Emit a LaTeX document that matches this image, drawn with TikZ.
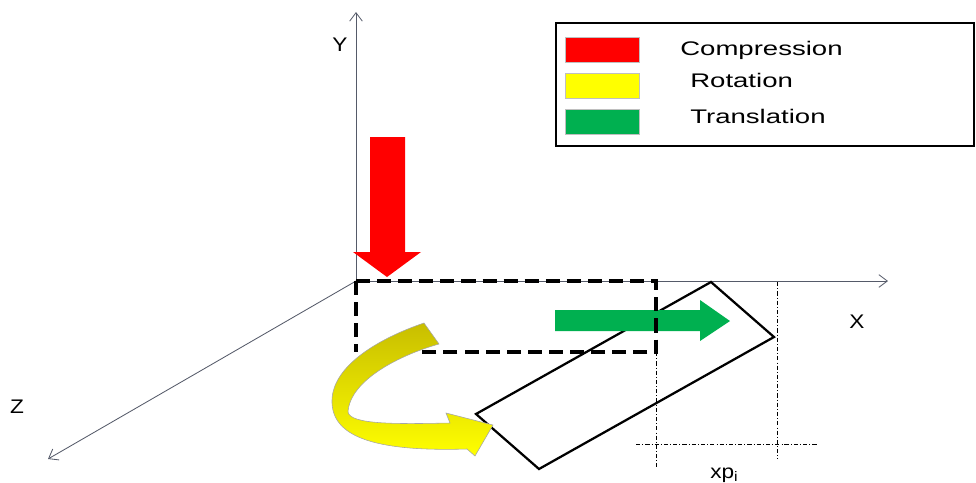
\documentclass[tikz,border=0pt]{standalone}
\usepackage{fontspec}
\setmainfont{Liberation Sans}
\newfontfamily\legendfont[FakeStretch=1.4]{Liberation Sans}
\newfontfamily\axisfont[FakeStretch=1.15]{Liberation Sans}
\usetikzlibrary{arrows.meta}
\usetikzlibrary{calc,positioning}

\definecolor{axisgray}{RGB}{85,90,105}
\definecolor{compred}{RGB}{255,0,0}
\definecolor{rotyellow}{RGB}{255,255,0}
\definecolor{rotolive}{RGB}{200,190,0}
\definecolor{transgreen}{RGB}{0,176,80}

\begin{document}
\begin{tikzpicture}[x=0.025cm,y=-0.025cm]
    \def\axisWidth{0.6pt}
    \def\boxWidth{1.6pt}

    \tikzstyle{axis}=[line width=\axisWidth,draw=axisgray,-{Straight Barb[length=6pt,width=9pt]}]
    \tikzstyle{hidden}=[line width=2.2pt,dash pattern=on 10pt off 5pt]
    \tikzstyle{guide}=[line width=0.5pt,dash pattern=on 3pt off 1.5pt on 0.6pt off 1.5pt]
    \tikzstyle{axislabel}=[font=\axisfont\fontsize{14}{16}\selectfont,inner sep=0pt]
    \tikzstyle{swatch}=[draw=black!25,line width=0.3pt,minimum width=1.85cm,minimum height=0.62cm,inner sep=0pt]
    \tikzstyle{legtext}=[font=\legendfont\fontsize{14}{16}\selectfont,anchor=west,inner sep=0pt]

    \useasboundingbox (0,0) rectangle (976,482);

    % Axes
    \coordinate (O) at (356,281);
    \coordinate (Ytip) at (356,12);
    \coordinate (Xtip) at (888,281);
    \coordinate (Ztip) at (48,459);
    \draw[axis] (O) -- (Ytip);
    \draw[axis] (O) -- (Xtip);
    \draw[axis] (O) -- (Ztip);
    \node[axislabel] (Ylabel) at (340,45) {Y};
    \node[axislabel] (Xlabel) at (857,322) {X};
    \node[axislabel] (Zlabel) at (17,407) {Z};

    % Rotated body
    \coordinate (R1) at (711,282);
    \coordinate (R2) at (774,337);
    \coordinate (R3) at (539,469);
    \coordinate (R4) at (476,414);
    \draw[line width=\boxWidth,line join=miter] (R1) -- (R2) -- (R3) -- (R4) -- cycle;

    % Translation
    \fill[transgreen] (555,310) -- (700,310) -- (700,300) -- (730,321) -- (700,341) -- (700,331) -- (555,331) -- cycle;

    % Initial position (dashed)
    \coordinate (D1) at (656,281);
    \coordinate (D2) at (656,352);
    \coordinate (D3) at (420,352);
    \coordinate (D4) at (356,352);
    \draw[hidden] (O) -- (D1) -- (D2) -- (D3);
    \draw[hidden] (O) -- (D4);

    % Rotation
    \shade[top color=rotolive,middle color=rotyellow!85!rotolive,bottom color=rotyellow,draw=black!35,line width=0.4pt]
      (424,323) .. controls (380,338) and (333,365) .. (332,400)
      .. controls (331,435) and (370,452) .. (467,449)
      -- (475,456) -- (493,425) -- (446,413) -- (450,423)
      .. controls (400,424) and (350,425) .. (348,412)
      .. controls (350,380) and (400,355) .. (439,344) -- cycle;

    % Compression
    \fill[compred] (370,137) -- (405,137) -- (405,252) -- (421,252) -- (387,277) -- (353,252) -- (370,252) -- cycle;

    % Displacement xp_i
    \coordinate (G1) at (656,467);
    \coordinate (G2) at (777,282);
    \coordinate (G3) at (777,459);
    \coordinate (G4) at (636,444);
    \coordinate (G5) at (818,444);
    \draw[guide] (D2) -- (G1);
    \draw[guide] (G2) -- (G3);
    \draw[guide] (G4) -- (G5);
    \node[axislabel,anchor=base west] (xplabel) at (710,478) {xp\textsubscript{i}};

    % Legend
    \draw[line width=1.6pt] (556,23) rectangle (974,146);
    \node[swatch,fill=compred] (Sred) at (602,50) {};
    \node[swatch,fill=rotyellow] (Syellow) at (602,85.5) {};
    \node[swatch,fill=transgreen] (Sgreen) at (602,121.5) {};
    \node[legtext] (Tcomp) at (680,50) {Compression};
    \node[legtext] (Trot) at (690,80) {Rotation};
    \node[legtext] (Ttrans) at (690,116) {Translation};
\end{tikzpicture}
\end{document}
